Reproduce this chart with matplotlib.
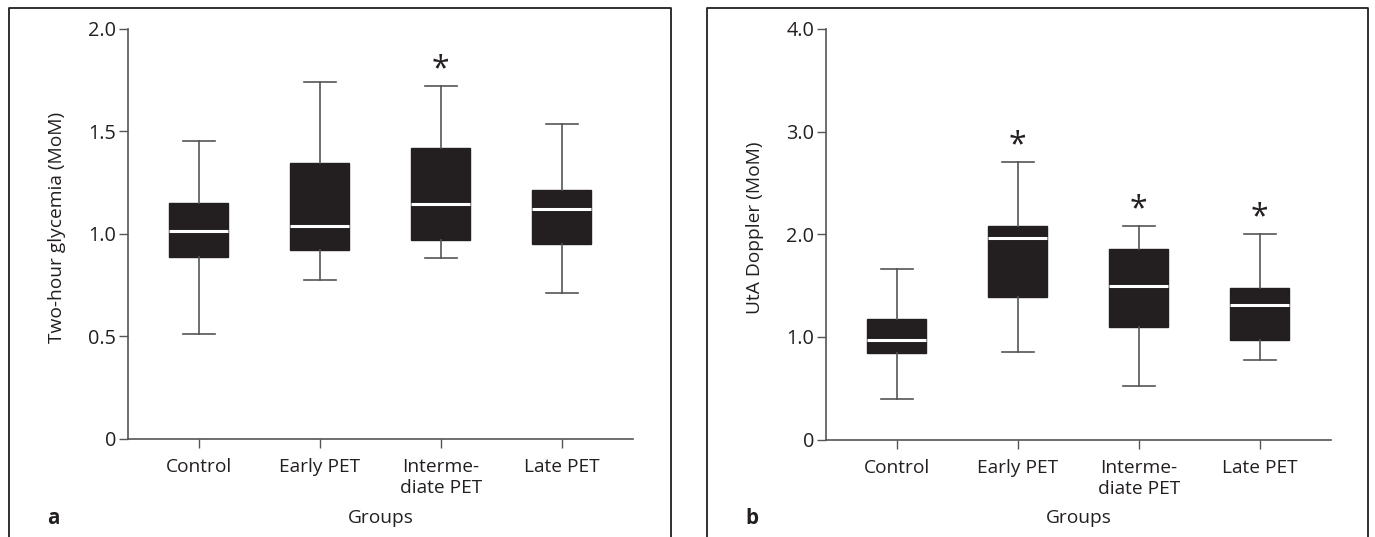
import matplotlib
matplotlib.use("Agg")
import matplotlib.pyplot as plt
from matplotlib.lines import Line2D

plt.rcParams['font.family'] = ['Open Sans', 'DejaVu Sans']

# ---------------- data ----------------
groups = ["Control", "Early PET", "Interme-\ndiate PET", "Late PET"]

glyc_low = [0.51, 0.776, 0.88, 0.71]
glyc_q1 = [0.885, 0.92, 0.968, 0.95]
glyc_med = [1.015, 1.04, 1.145, 1.12]
glyc_q3 = [1.148, 1.345, 1.418, 1.213]
glyc_high = [1.455, 1.74, 1.72, 1.535]
glyc_sig = [False, False, True, False]

dop_low = [0.39, 0.854, 0.52, 0.77]
dop_q1 = [0.84, 1.386, 1.10, 0.973]
dop_med = [0.974, 1.964, 1.50, 1.306]
dop_q3 = [1.178, 2.077, 1.86, 1.48]
dop_high = [1.665, 2.704, 2.085, 2.0]
dop_sig = [False, True, True, True]

glyc_ticks = [0, 0.5, 1.0, 1.5, 2.0]
glyc_ticklabels = ["0", "0.5", "1.0", "1.5", "2.0"]
dop_ticks = [0, 1.0, 2.0, 3.0, 4.0]
dop_ticklabels = ["0", "1.0", "2.0", "3.0", "4.0"]

glyc_ylabel = "Two-hour glycemia (MoM)"
dop_ylabel = "UtA Doppler (MoM)"
xlabel = "Groups"

# ---------------- style ----------------
W, H = 1375, 537
BOX = "#231f20"
LINE = "#555555"
TXT = "#231f20"
FS = 13.8

fig = plt.figure(figsize=(W / 100, H / 100), dpi=100)


def px_axes(l, t, r, b):
    return fig.add_axes([l / W, 1 - b / H, (r - l) / W, (b - t) / H])


def panel(ax, low, q1, med, q3, high, sig, ticks, ticklabels, ylim):
    stats = []
    for i in range(len(groups)):
        stats.append(dict(whislo=low[i], q1=q1[i], med=med[i], q3=q3[i],
                          whishi=high[i], fliers=[]))
    pos = list(range(1, len(groups) + 1))
    ax.bxp(stats, positions=pos, widths=0.49, capwidths=0.265,
           patch_artist=True, showfliers=False,
           boxprops=dict(facecolor=BOX, edgecolor=BOX, linewidth=1.0),
           medianprops=dict(color="white", linewidth=2.2, solid_capstyle="butt"),
           whiskerprops=dict(color=LINE, linewidth=1.2),
           capprops=dict(color=LINE, linewidth=1.2))
    for p, h, s in zip(pos, high, sig):
        if s:
            ax.annotate("*", xy=(p, h), xytext=(0, 5.5), textcoords="offset points",
                        ha="center", va="baseline", fontsize=23, color=TXT)
    ax.set_xlim(0.415, 4.59)
    ax.set_ylim(*ylim)
    ax.set_xticks(pos)
    ax.set_xticklabels(groups, fontsize=FS, color=TXT, linespacing=1.2)
    ax.set_yticks(ticks)
    ax.set_yticklabels(ticklabels, fontsize=FS + 0.5, color=TXT)
    for side in ("top", "right"):
        ax.spines[side].set_visible(False)
    for side in ("left", "bottom"):
        ax.spines[side].set_color(LINE)
        ax.spines[side].set_linewidth(1.2)
    ax.tick_params(axis="both", direction="out", length=6.5, width=1.0,
                   color=LINE)
    ax.tick_params(axis="x", pad=7.5)
    ax.tick_params(axis="y", pad=2)
    ax.set_facecolor("none")


ax_a = px_axes(128, 29, 633, 438.5)
panel(ax_a, glyc_low, glyc_q1, glyc_med, glyc_q3, glyc_high, glyc_sig,
      glyc_ticks, glyc_ticklabels, (0, 2.0))

ax_b = px_axes(826, 29, 1331, 439.5)
panel(ax_b, dop_low, dop_q1, dop_med, dop_q3, dop_high, dop_sig,
      dop_ticks, dop_ticklabels, (0, 4.0))

# axis titles
fig.text(380.5 / W, 1 - 518 / H, xlabel, ha="center", va="center", fontsize=FS, color=TXT)
fig.text(1078.5 / W, 1 - 518 / H, xlabel, ha="center", va="center", fontsize=FS, color=TXT)
fig.text(57 / W, 1 - 227 / H, glyc_ylabel, rotation=90, ha="center", va="center",
         fontsize=FS, color=TXT)
fig.text(755 / W, 1 - 228 / H, dop_ylabel, rotation=90, ha="center", va="center",
         fontsize=FS, color=TXT)
fig.text(53 / W, 1 - 518 / H, "a", ha="center", va="center", fontsize=FS + 1,
         fontweight="bold", color=TXT)
fig.text(752 / W, 1 - 518 / H, "b", ha="center", va="center", fontsize=FS + 1,
         fontweight="bold", color=TXT)

# panel frames (open at the bottom)
FR = "#231f20"
for l, r in ((9, 671), (707, 1368)):
    fig.add_artist(Line2D([l / W, l / W, r / W, r / W],
                          [0, 1 - 8 / H, 1 - 8 / H, 0],
                          transform=fig.transFigure, color=FR, linewidth=1.3))

fig.savefig("out.png", dpi=100)
